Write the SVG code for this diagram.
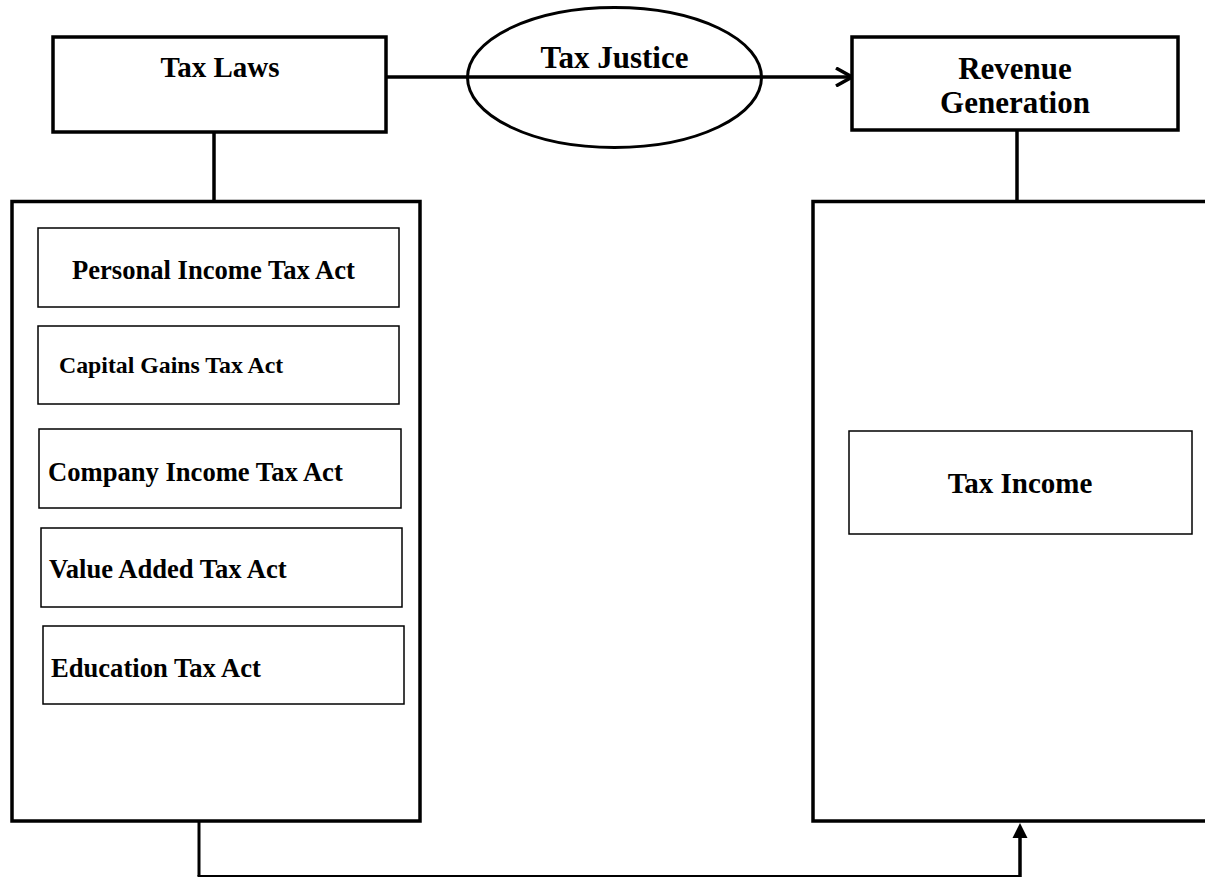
<svg xmlns="http://www.w3.org/2000/svg" width="1205" height="878" viewBox="0 0 1205 878">
<defs>
<style>
.box{fill:#fff;stroke:#000;stroke-width:3.5}
.inner{fill:#fff;stroke:#000;stroke-width:1.5}
.t{font-family:"Liberation Serif","Times New Roman",serif;font-weight:bold;fill:#000}
.c{text-anchor:middle}
.ln{fill:none;stroke:#000;stroke-width:3.5}
</style>
<marker id="open" markerWidth="20" markerHeight="20" refX="18" refY="10" orient="auto" markerUnits="userSpaceOnUse">
<path d="M2,1 L18,10 L2,19" fill="none" stroke="#000" stroke-width="3.5"/>
</marker>
</defs>
<rect width="1205" height="878" fill="#fff"/>
<g id="connectors">
<line class="ln" x1="214" y1="132" x2="214" y2="201"/>
<line class="ln" x1="1017" y1="130" x2="1017" y2="202"/>
<line class="ln" x1="387" y1="77" x2="852" y2="77" marker-end="url(#open)"/>
<line stroke="#000" stroke-width="3" x1="199" y1="822" x2="199" y2="876"/>
<line stroke="#000" stroke-width="2" x1="197.5" y1="876" x2="1021" y2="876"/>
<line stroke="#000" stroke-width="3.5" x1="1020" y1="877" x2="1020" y2="836"/>
<polygon points="1020,823 1012.5,838 1027.5,838" fill="#000"/>
</g>
<g id="tax-laws">
<rect class="box" x="53" y="37" width="333" height="95"/>
<text class="t c" x="220" y="77" font-size="29">Tax Laws</text>
</g>
<g id="tax-justice">
<ellipse cx="614.5" cy="77.5" rx="147" ry="70" fill="none" stroke="#000" stroke-width="3"/>
<text class="t c" x="614.5" y="68" font-size="31">Tax Justice</text>
</g>
<g id="revenue-generation">
<rect class="box" x="852" y="37" width="326" height="93"/>
<text class="t c" x="1015" y="79" font-size="31">Revenue</text>
<text class="t c" x="1015" y="113" font-size="31">Generation</text>
</g>
<g id="tax-laws-group">
<rect class="box" x="12" y="201.5" width="408" height="619.5"/>
</g>
<g id="personal-income">
<rect class="inner" x="38" y="228" width="361" height="79"/>
<text class="t" x="72" y="279" font-size="26.6">Personal Income Tax Act</text>
</g>
<g id="capital-gains">
<rect class="inner" x="38" y="326" width="361" height="78"/>
<text class="t" x="59" y="373" font-size="23.8">Capital Gains Tax Act</text>
</g>
<g id="company-income">
<rect class="inner" x="39" y="429" width="362" height="79"/>
<text class="t" x="48" y="481" font-size="26.6">Company Income Tax Act</text>
</g>
<g id="value-added">
<rect class="inner" x="41" y="528" width="361" height="79"/>
<text class="t" x="49" y="578" font-size="26.6">Value Added Tax Act</text>
</g>
<g id="education">
<rect class="inner" x="43" y="626" width="361" height="78"/>
<text class="t" x="51" y="677" font-size="26.6">Education Tax Act</text>
</g>
<g id="revenue-group">
<rect class="box" x="813" y="201.5" width="420" height="619.5"/>
</g>
<g id="tax-income">
<rect class="inner" x="849" y="431" width="343" height="103"/>
<text class="t c" x="1020" y="493" font-size="29">Tax Income</text>
</g>
</svg>
